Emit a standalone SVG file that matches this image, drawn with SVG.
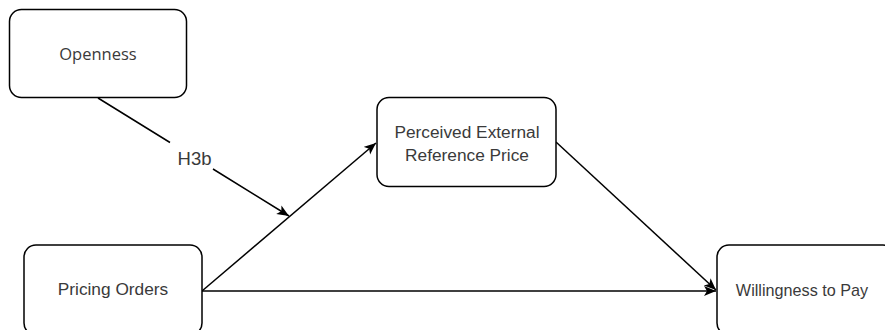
<svg xmlns="http://www.w3.org/2000/svg" width="885" height="330" viewBox="0 0 885 330">
  <defs>
    <marker id="arrow" markerUnits="userSpaceOnUse" markerWidth="14" markerHeight="12" refX="12" refY="5" orient="auto">
      <path d="M0,0 L12,5 L0,10 L3,5 Z" fill="#000"/>
    </marker>
    <style>
      .box { fill: #fff; stroke: #000; stroke-width: 1.5; }
      .lbl { font-family: "Liberation Sans", Arial, sans-serif; font-size: 17.3px; fill: #3a3a3a; text-anchor: middle; }
      .edge { fill: none; stroke: #000; stroke-width: 1.5; }
    </style>
  </defs>
  <rect width="885" height="330" fill="#fff"/>
  <g id="connectors">
    <line class="edge" x1="202" y1="291" x2="376" y2="143" marker-end="url(#arrow)"/>
    <line class="edge" x1="202" y1="291" x2="716" y2="291" marker-end="url(#arrow)"/>
    <line class="edge" x1="556" y1="142" x2="716" y2="290" marker-end="url(#arrow)"/>
    <path class="edge" d="M98,98 L170,142.5 M213,169 L289,216" marker-end="url(#arrow)"/>
    <text class="lbl" x="194.5" y="165" style="font-size:18.5px">H3b</text>
  </g>
  <g id="openness">
    <rect class="box" x="9.5" y="9.5" width="177" height="88" rx="12"/>
    <text class="lbl" x="98" y="60" style="font-family:'Open Sans','Noto Sans',sans-serif;font-size:16.5px">Openness</text>
  </g>
  <g id="perceived">
    <rect class="box" x="377" y="97.5" width="179" height="89" rx="12"/>
    <text class="lbl" x="467" y="138">Perceived External</text>
    <text class="lbl" x="467" y="161">Reference Price</text>
  </g>
  <g id="pricing">
    <rect class="box" x="24" y="245" width="178" height="90" rx="12"/>
    <text class="lbl" x="113" y="295">Pricing Orders</text>
  </g>
  <g id="willingness">
    <rect class="box" x="717" y="245" width="178" height="90" rx="12"/>
    <text class="lbl" x="802" y="296" style="font-size:16.2px">Willingness to Pay</text>
  </g>
</svg>
